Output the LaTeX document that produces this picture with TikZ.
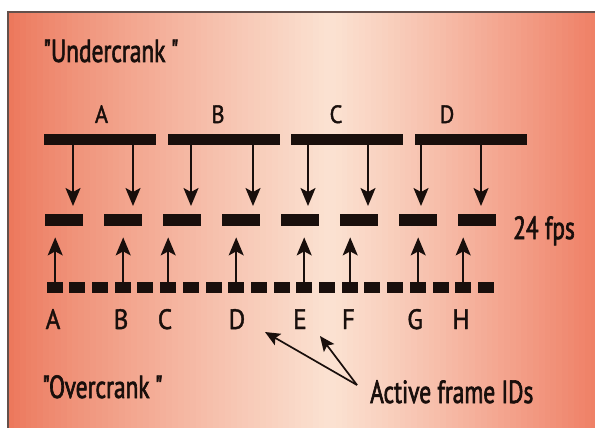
\documentclass[tikz,border=0pt]{standalone}
\usepackage{fontspec}
\newfontfamily\pts{PT Sans}[FakeStretch=0.73, FakeBold=2]
\newfontfamily\ptl{PT Sans}[FakeStretch=0.9, FakeBold=1.5]
\usetikzlibrary{arrows.meta}
\definecolor{salmonL}{RGB}{236,118,90}
\definecolor{peach}{RGB}{251,226,210}
\definecolor{salmonR}{RGB}{239,128,102}
\definecolor{frameline}{RGB}{100,80,75}
\definecolor{ink}{RGB}{25,15,12}
\tikzset{
  topbar/.style={fill=ink, inner sep=0pt, minimum width=112pt, minimum height=11pt, anchor=north west},
  midbar/.style={fill=ink, inner sep=0pt, minimum width=38pt, minimum height=12pt, anchor=north west},
  sq/.style={fill=ink, inner sep=0pt, minimum width=16pt, minimum height=11pt, anchor=north west},
  arr/.style={ink, line width=1.8pt, -{Stealth[length=18pt,width=15pt,inset=4pt]}},
  ptr/.style={ink, line width=1.7pt, -{Stealth[length=15pt,width=13pt,inset=3pt]}},
  captxt/.style={ink, inner sep=0pt, anchor=base west, font=\pts\fontsize{32}{36}\selectfont},
  toplbl/.style={ink, inner sep=0pt, anchor=base, font=\ptl\fontsize{25}{29}\selectfont},
  botlbl/.style={ink, inner sep=0pt, anchor=base, font=\ptl\fontsize{28}{32}\selectfont},
}
\begin{document}
\begin{tikzpicture}[x=1pt,y=-1pt]
\useasboundingbox (0,0) rectangle (595,428);
\fill[white] (0,0) rectangle (595,428);
% background gradient drawn as strips
\foreach \i in {0,...,54} {
  \pgfmathsetmacro\xa{8+5.86*\i}
  \pgfmathsetmacro\p{100*((\xa+2.9-8)/322)^0.85}
  \fill[peach!\p!salmonL] (\xa,12) rectangle ({\xa+6.3},428);
}
\foreach \i in {0,...,45} {
  \pgfmathsetmacro\xa{330+5.8*\i}
  \pgfmathsetmacro\p{100*((\xa+2.9-330)/265)^1.1}
  \pgfmathsetmacro\p{min(\p,100)}
  \fill[salmonR!\p!peach] (\xa,12) rectangle ({\xa+6.3},428);
}
\draw[frameline, line width=1.2pt] (8,428) -- (8,12) -- (595,12);

% top bars
\node[topbar] (tA) at (44,134) {};
\node[topbar] (tB) at (168,134) {};
\node[topbar] (tC) at (291,134) {};
\node[topbar] (tD) at (415,134) {};
\node[toplbl] (lA) at (101.5,123) {A};
\node[toplbl] (lB) at (218,123) {B};
\node[toplbl] (lC) at (336,123) {C};
\node[toplbl] (lD) at (447,123) {D};

% middle bars
\foreach \k in {1,...,8} \node[midbar] (m\k) at ({45+59*(\k-1)},214) {};

% bottom squares
\foreach \k in {0,...,19} \node[sq] (s\k) at ({round(46.7+22.7*\k)},282) {};

% down arrows
\foreach \t/\x/\m in {A/73/1, A/133/2, B/191/3, B/253/4, C/308/5, C/368/6, D/421/7, D/481/8} {
  \coordinate (dx) at (\x,0);
  \draw[arr, shorten >=8pt] (t\t.south -| dx) -- (m\m.north -| dx);
}

% up arrows
\foreach \s/\m in {0/1,3/2,5/3,8/4,11/5,13/6,16/7,18/8}
  \draw[arr, shorten >=11pt] (s\s.north) -- (m\m.south -| s\s.north);

% bottom labels
\node[botlbl] (bA) at (53,329) {A};
\node[botlbl] (bB) at (121,329) {B};
\node[botlbl] (bC) at (165,329) {C};
\node[botlbl] (bD) at (237,329) {D};
\node[botlbl] (bE) at (300,329) {E};
\node[botlbl] (bF) at (348.5,329) {F};
\node[botlbl] (bG) at (415,329) {G};
\node[botlbl] (bH) at (461,329) {H};

% captions
\node[captxt] (under) at (43,62) {"Undercrank\,"};
\node[captxt] (over) at (42,398) {"Overcrank\,"};
\node[captxt] (fps) at (513,239) {24 fps};
\node[captxt] (act) at (370,403) {Active frame IDs};

% pointers
\coordinate (ptail) at (357,385);
\coordinate (tip1) at (265,332);
\coordinate (tip2) at (320,336);
\draw[ptr] (ptail) -- (tip1);
\draw[ptr] (ptail) -- (tip2);
\end{tikzpicture}
\end{document}
